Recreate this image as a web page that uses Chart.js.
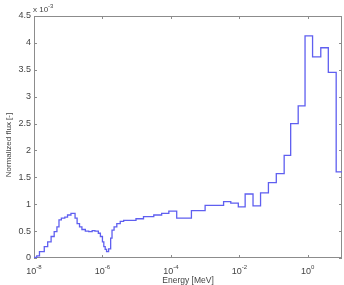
<!DOCTYPE html>
<html>
<head>
<meta charset="utf-8">
<script src="https://cdn.jsdelivr.net/npm/chart.js@4/dist/chart.umd.min.js"></script>
<style>
  html, body { margin: 0; padding: 0; background: #fff; }
</style>
</head>
<body>
<canvas id="fluxChart" width="344" height="285"></canvas>
<script>
// group boundaries, as powers of ten (MeV)
const edgeExp = [
  -8.00, -7.92, -7.84, -7.70, -7.60, -7.50, -7.41, -7.33, -7.27, -7.20,
  -7.10, -7.02, -6.92, -6.80, -6.74, -6.67, -6.60, -6.50, -6.40, -6.30,
  -6.22, -6.12, -6.06, -6.00, -5.96, -5.92, -5.88, -5.82, -5.76, -5.72,
  -5.66, -5.58, -5.48, -5.38, -5.02, -4.80, -4.50, -4.27, -4.06, -3.83,
  -3.40, -3.00, -2.46, -2.25, -2.03, -1.83, -1.60, -1.38, -1.15, -0.92,
  -0.69, -0.50, -0.28, -0.08, 0.14, 0.38, 0.60, 0.83, 1.00
];

// normalized flux per group (x 10^-3)
const flux = [
  0.01, 0.04, 0.12, 0.21, 0.30, 0.40, 0.49, 0.58, 0.71, 0.74,
  0.76, 0.80, 0.83, 0.74, 0.64, 0.58, 0.53, 0.50, 0.49, 0.51,
  0.50, 0.46, 0.40, 0.30, 0.21, 0.16, 0.12, 0.17, 0.37, 0.52,
  0.58, 0.64, 0.68, 0.70, 0.73, 0.77, 0.80, 0.83, 0.87, 0.74,
  0.88, 0.98, 1.05, 1.02, 0.95, 1.19, 0.97, 1.21, 1.40, 1.57,
  1.91, 2.50, 2.83, 4.13, 3.74, 3.91, 3.45, 1.60
];

const xTickExp = [-8, -6, -4, -2, 0];
const yTicks = [0, 0.5, 1, 1.5, 2, 2.5, 3, 3.5, 4, 4.5];

const points = flux.map((v, i) => ({ x: Math.pow(10, edgeExp[i]), y: v }));
points.push({ x: Math.pow(10, edgeExp[edgeExp.length - 1]), y: flux[flux.length - 1] });

const textColor = '#444';
const boxColor = '#8c8c8c';
const fontFamily = '"Liberation Sans", Arial, sans-serif';

// draws "10" with a raised exponent, centred on cx
function drawPower(ctx, base, exp, cx, baseline, size, align) {
  ctx.font = size + 'px ' + fontFamily;
  const w1 = ctx.measureText(base).width;
  ctx.font = Math.round(size * 0.7) + 'px ' + fontFamily;
  const w2 = ctx.measureText(exp).width;
  let left = align === 'left' ? cx : cx - (w1 + w2) / 2;
  ctx.textAlign = 'left';
  ctx.textBaseline = 'alphabetic';
  ctx.font = size + 'px ' + fontFamily;
  ctx.fillText(base, left, baseline);
  ctx.font = Math.round(size * 0.7) + 'px ' + fontFamily;
  ctx.fillText(exp, left + w1, baseline - size * 0.55);
}

const matlabFrame = {
  id: 'matlabFrame',
  beforeDatasetsDraw(chart) {
    const { ctx, chartArea: a, scales: { x, y } } = chart;
    ctx.save();
    ctx.strokeStyle = boxColor;
    ctx.lineWidth = 1;
    ctx.strokeRect(a.left + 0.5, a.top + 0.5, a.right - a.left - 1, a.bottom - a.top - 1);

    ctx.beginPath();
    xTickExp.forEach(e => {
      const px = Math.round(x.getPixelForValue(Math.pow(10, e))) + 0.5;
      ctx.moveTo(px, a.bottom);
      ctx.lineTo(px, a.bottom - 3);
      ctx.moveTo(px, a.top);
      ctx.lineTo(px, a.top + 3);
    });
    yTicks.forEach(v => {
      const py = Math.round(y.getPixelForValue(v)) + 0.5;
      ctx.moveTo(a.left, py);
      ctx.lineTo(a.left + 3, py);
      ctx.moveTo(a.right, py);
      ctx.lineTo(a.right - 3, py);
    });
    ctx.stroke();
    ctx.restore();
  },
  afterDraw(chart) {
    const { ctx, chartArea: a, scales: { x } } = chart;
    ctx.save();
    ctx.fillStyle = textColor;

    // x tick labels 10^n
    xTickExp.forEach(e => {
      const px = x.getPixelForValue(Math.pow(10, e));
      drawPower(ctx, '10', String(e), px, 273.5, 9);
    });

    // multiplier above the y axis
    drawPower(ctx, 'x 10', '-3', a.left - 1, 12, 8, 'left');

    // axis titles
    ctx.font = '8.5px ' + fontFamily;
    ctx.textAlign = 'center';
    ctx.textBaseline = 'middle';
    ctx.fillText('Energy [MeV]', (a.left + a.right) / 2, 281);

    ctx.save();
    ctx.translate(9, 145);
    ctx.rotate(-Math.PI / 2);
    ctx.font = '8px ' + fontFamily;
    ctx.fillText('Normalized flux [-]', 0, 0);
    ctx.restore();

    ctx.restore();
  }
};

const ctx = document.getElementById('fluxChart').getContext('2d');
window.myChart = new Chart(ctx, {
  type: 'line',
  data: {
    datasets: [{
      label: 'Normalized flux',
      data: points,
      stepped: 'before',
      borderColor: 'rgb(95, 95, 240)',
      borderWidth: 1.3,
      pointRadius: 0,
      fill: false
    }]
  },
  options: {
    responsive: false,
    animation: false,
    events: [],
    layout: { padding: { top: 16, right: 2, left: 0, bottom: 0 } },
    plugins: {
      legend: { display: false },
      tooltip: { enabled: false }
    },
    scales: {
      x: {
        type: 'logarithmic',
        min: 1e-8,
        max: 10,
        grid: { display: false, drawTicks: false },
        border: { display: false },
        ticks: { display: false },
        afterFit(scale) { scale.height = 27; }
      },
      y: {
        type: 'linear',
        min: 0,
        max: 4.5,
        grid: { display: false, drawTicks: false },
        border: { display: false },
        afterBuildTicks(scale) {
          scale.ticks = yTicks.map(v => ({ value: v }));
        },
        ticks: {
          padding: 3,
          color: textColor,
          font: { family: fontFamily, size: 9 },
          callback: v => String(v)
        },
        afterFit(scale) { scale.width = 34; }
      }
    }
  },
  plugins: [matlabFrame]
});
</script>
</body>
</html>
